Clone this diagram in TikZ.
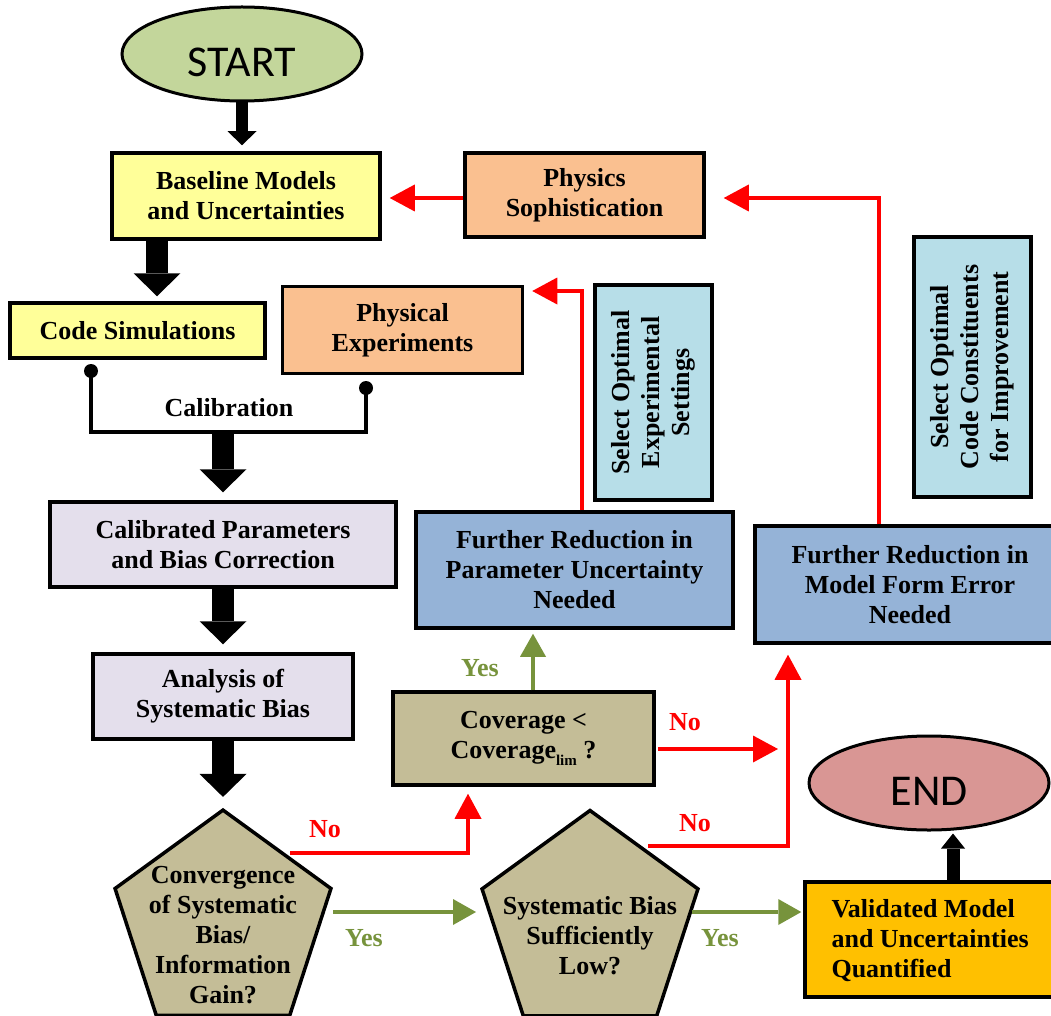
\documentclass[tikz,border=0pt]{standalone}
\usepackage{fontspec}
\setmainfont{Liberation Serif}
\newfontfamily\calibrifont{Carlito}
\usetikzlibrary{shapes.geometric,arrows.meta,calc}

\definecolor{startc}{HTML}{C3D69B}
\definecolor{yel}{HTML}{FFFF99}
\definecolor{peach}{HTML}{FAC090}
\definecolor{lav}{HTML}{E4DFEC}
\definecolor{tanc}{HTML}{C4BD97}
\definecolor{blu}{HTML}{95B3D7}
\definecolor{cyanb}{HTML}{B7DEE8}
\definecolor{goldc}{HTML}{FFC000}
\definecolor{endc}{HTML}{D99694}
\definecolor{grn}{HTML}{77933C}
\definecolor{rd}{HTML}{FF0000}

\begin{document}
\begin{tikzpicture}[x=1pt,y=-1pt,
  txt/.style={font=\bfseries\fontsize{26}{30}\selectfont, align=center},
  box/.style={draw, line width=3.5pt, inner sep=0pt, txt},
  oval/.style={ellipse, draw, line width=3pt, inner sep=0pt, minimum width=240pt, minimum height=94pt},
  ovaltxt/.style={font=\calibrifont\fontsize{44}{44}\selectfont},
  pent/.style={regular polygon, regular polygon sides=5, draw, line width=3.5pt, fill=tanc, inner sep=0pt, minimum size=227pt},
  bigarrow/.style={draw=black, line width=22pt, -{Triangle[length=23pt,width=47pt,line width=0pt]}},
  smallarrow/.style={draw=black, line width=12pt, -{Triangle[length=14pt,width=29pt,line width=0pt]}},
  endarrow/.style={draw=black, line width=13pt, -{Triangle[length=15pt,width=24pt,line width=0pt]}},
  rarrow/.style={draw=rd, line width=4pt, -{Triangle[length=25pt,width=27pt,line width=0pt]}},
  garrow/.style={draw=grn, line width=4pt, -{Triangle[length=23pt,width=26pt,line width=0pt]}},
  nolbl/.style={txt, text=rd},
  yeslbl/.style={txt, text=grn}
]
\useasboundingbox (0,0) rectangle (1051,1016);
\fill[white] (0,0) rectangle (1051,1016);
\clip (0,0) rectangle (1051,1016);

% nodes
\node[oval, fill=startc] (start) at (242,54) {};
\node[ovaltxt] (startlbl) at (242,62) {START};
\node[box, fill=yel, minimum width=268pt, minimum height=86pt] (base) at (246,196) {Baseline Models\\and Uncertainties};
\node[box, fill=peach, minimum width=239pt, minimum height=84pt] (physoph) at (584.5,195) {Physics\\Sophistication};
\node[box, fill=yel, minimum width=255pt, minimum height=55pt] (code) at (137.5,330.5) {Code Simulations};
\node[box, fill=peach, minimum width=240pt, minimum height=87pt] (phexp) at (402.5,330) {Physical\\Experiments};
\node[txt] (callbl) at (229,408) {Calibration};
\node[box, fill=lav, minimum width=346pt, minimum height=85pt] (calib) at (223,544.5) {Calibrated Parameters\\and Bias Correction};
\node[box, fill=lav, minimum width=260pt, minimum height=85pt] (anal) at (223,696.5) {Analysis of\\Systematic Bias};
\node[box, fill=cyanb, rotate=90, minimum width=215pt, minimum height=117pt] (sel1) at (653.5,392.5) {Select Optimal\\Experimental\\Settings};
\node[box, fill=cyanb, rotate=90, minimum width=260pt, minimum height=117pt] (sel2) at (972.5,367) {Select Optimal\\Code Constituents\\for Improvement};
\node[box, fill=blu, minimum width=317pt, minimum height=116pt] (frp) at (574.5,570) {Further Reduction in\\Parameter Uncertainty\\Needed};
\node[box, fill=blu, minimum width=310pt, minimum height=117pt] (frm) at (910,584.5) {Further Reduction in\\Model Form Error\\Needed};
\node[box, fill=tanc, minimum width=261pt, minimum height=93pt] (cov) at (523.5,738.5) {Coverage <\\Coverage\raisebox{-7pt}{\fontsize{15}{15}\selectfont lim} ?};
\node[pent] (p1) at (223,923.6) {};
\node[txt] (p1lbl) at (223,935) {Convergence\\of Systematic\\Bias/\\Information\\Gain?};
\node[pent] (p2) at (590,924) {};
\node[txt] (p2lbl) at (590,936) {Systematic Bias\\Sufficiently\\Low?};
\node[oval, fill=endc] (end) at (929,783) {};
\node[ovaltxt] (endlbl) at (929,791) {END};
\node[box, fill=goldc, minimum width=260pt, minimum height=115pt] (valid) at (935,939.5) {};
\node[txt, align=left, anchor=west] (validlbl) at (828,941) {Validated Model\\and Uncertainties\\Quantified};

% helper coordinates
\coordinate (a2) at (157,0);
\coordinate (d1) at (91,371);
\coordinate (d2) at (366,388);
\coordinate (br) at (229,432);
\coordinate (yy) at (0,912);
\coordinate (n1) at (290,853);
\coordinate (c468) at (468,0);
\coordinate (n2) at (648,846);
\coordinate (c788) at (788,0);
\coordinate (cj) at (778,749);
\coordinate (c533) at (533,0);
\coordinate (c582) at (582,0);
\coordinate (r291) at (0,291);
\coordinate (c879) at (879,0);
\coordinate (r198) at (0,198);
\coordinate (c953) at (953,0);

% black flow
\draw[smallarrow, shorten >=6pt] (start.south) -- (base.north -| start.south);
\draw[bigarrow, shorten >=5pt] (base.south -| a2) -- (code.north -| a2);
\draw[line width=3.5pt] (d1) |- (br) -| (d2);
\fill (d1) circle (7pt);
\fill (d2) circle (7pt);
\draw[bigarrow, shorten >=8pt] (calib.north |- br) -- (calib.north);
\draw[bigarrow, shorten >=8pt] (calib.south) -- (anal.north);
\draw[bigarrow, shorten >=11pt] (anal.south) -- (p1.corner 1);
\draw[endarrow, shorten >=2pt] (valid.north -| c953) -- (end.south -| c953);

% green
\draw[garrow, shorten >=4pt] (p1.corner 5 |- yy) -- (p2.corner 2 |- yy);
\draw[garrow, shorten >=2pt, shorten <=-8pt] (p2.corner 5 |- yy) -- (valid.west |- yy);
\draw[garrow, shorten >=4pt] (cov.north -| c533) -- (frp.south -| c533);

% red
\draw[rarrow, shorten >=7pt] (n1) -| (cov.south -| c468);
\draw[rarrow, shorten >=10pt] (n2) -| (frm.south -| c788);
\draw[rarrow, shorten <=2pt] (cov.east |- cj) -- (cj);
\draw[rarrow, shorten >=8pt] (frp.north -| c582) |- (phexp.east |- r291);
\draw[rarrow, shorten >=18pt] (frm.north -| c879) |- (physoph.east |- r198);
\draw[rarrow, shorten >=8pt] (physoph.west |- r198) -- (base.east |- r198);

% labels
\node[nolbl] (no1) at (325,829) {No};
\node[nolbl] (no2) at (685,722) {No};
\node[nolbl] (no3) at (695,823) {No};
\node[yeslbl] (yes1) at (364,938) {Yes};
\node[yeslbl] (yes2) at (720,938) {Yes};
\node[yeslbl] (yes3) at (480,668) {Yes};
\end{tikzpicture}
\end{document}
